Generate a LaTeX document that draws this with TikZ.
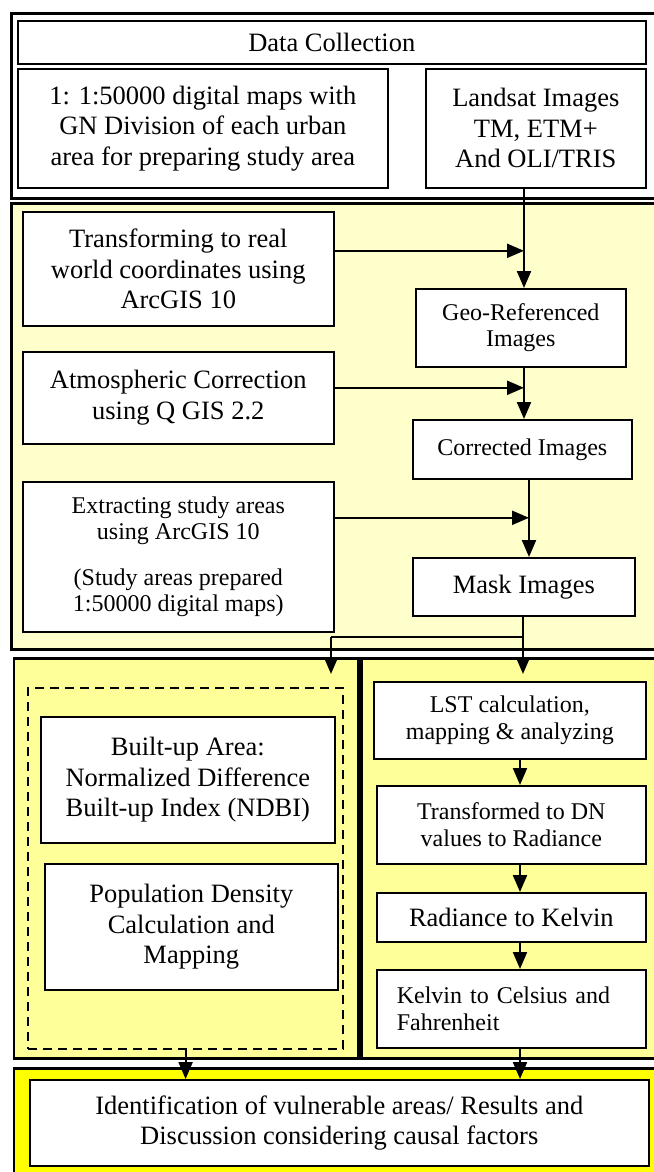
\documentclass[tikz,border=0pt]{standalone}
\usepackage{fontspec}
\setmainfont{Liberation Serif}
\usetikzlibrary{arrows.meta}
\definecolor{paleY}{HTML}{FFFFCC}
\definecolor{midY}{HTML}{FFFF99}
\definecolor{fullY}{HTML}{FFFF00}
\newcommand\bigf{\fontsize{26.5}{30.5}\selectfont}
\newcommand\smallf{\fontsize{24}{26.5}\selectfont}
\begin{document}
\begin{tikzpicture}[x=1pt,y=-1pt,
  sect/.style={draw, line width=2.6pt, anchor=north west, inner sep=0pt},
  box/.style={draw, line width=1.6pt, fill=white, anchor=north west, inner sep=0pt, align=center, font=\bigf},
  sbox/.style={box, font=\smallf},
  arr/.style={line width=2.2pt, -{Triangle[length=17pt,width=14pt]}},
  ln/.style={line width=2.2pt}]
\useasboundingbox (0,0) rectangle (653,1172);
\fill[white] (0,0) rectangle (653,1172);

% sections
\node[sect, fill=white, minimum width=646pt, minimum height=185pt] (s1) at (10,12) {};
\node[sect, fill=paleY, minimum width=646pt, minimum height=446pt] (s2) at (10,202) {};
\node[sect, fill=midY, minimum width=344.5pt, minimum height=400pt] (s3l) at (12.5,657) {};
\node[sect, fill=midY, minimum width=296pt, minimum height=400pt] (s3r) at (360,657) {};
\node[sect, fill=fullY, minimum width=643.5pt, minimum height=110pt] (s4) at (12.5,1067) {};

% top
\node[box, minimum width=628pt, minimum height=43pt] (dc) at (17,20) {Data Collection};
\node[box, minimum width=370pt, minimum height=119pt] (maps) at (17,68)
  {1: 1:50000 digital maps with\\GN Division of each urban\\area for preparing study area};
\node[box, minimum width=220pt, minimum height=119pt] (land) at (425,68)
  {Landsat Images\\TM, ETM+\\And OLI/TRIS};

% section 2
\node[box, minimum width=311pt, minimum height=114pt] (trans) at (22,211)
  {Transforming to real\\world coordinates using\\ArcGIS 10};
\node[sbox, minimum width=210pt, minimum height=78pt] (geo) at (415,288)
  {Geo-Referenced\\Images};
\node[box, minimum width=311pt, minimum height=92pt] (atm) at (22,351)
  {Atmospheric Correction\\using Q GIS 2.2};
\node[sbox, minimum width=219pt, minimum height=59pt] (corr) at (412,419)
  {Corrected Images};
\node[sbox, minimum width=311pt, minimum height=150pt] (extr) at (22,481)
  {Extracting study areas\\using ArcGIS 10\\[19pt](Study areas prepared\\1:50000 digital maps)};
\node[box, minimum width=222pt, minimum height=58pt] (mask) at (412,557)
  {Mask Images};

\coordinate (spA) at (524,0);
\coordinate (spB) at (529,0);
\coordinate (spC) at (523,0);
\draw[arr] (spA |- land.south) -- (spA |- geo.north);
\draw[arr] ([yshift=18pt]trans.east) -- ([yshift=18pt]trans.east -| spA);
\draw[arr] (spA |- geo.south) -- (spA |- corr.north);
\draw[arr] ([yshift=10pt]atm.east) -- ([yshift=10pt]atm.east -| spA);
\draw[arr] (spB |- corr.south) -- (spB |- mask.north);
\draw[arr] ([yshift=39pt]extr.east) -- ([yshift=39pt]extr.east -| spB);

% section 3
\node[draw, dash pattern=on 9pt off 6pt, line width=2.2pt, anchor=north west, inner sep=0pt,
  minimum width=315pt, minimum height=361pt] (dash) at (27,687) {};
\node[box, minimum width=294pt, minimum height=126pt] (built) at (40,716)
  {Built-up Area:\\Normalized Difference\\Built-up Index (NDBI)};
\node[box, minimum width=293pt, minimum height=126pt] (pop) at (44,863)
  {Population Density\\Calculation and\\Mapping};
\node[sbox, minimum width=272pt, minimum height=77pt] (lst) at (373,681)
  {LST calculation,\\mapping \& analyzing};
\node[sbox, minimum width=269pt, minimum height=78pt] (tdn) at (376,785)
  {Transformed to DN\\values to Radiance};
\node[box, minimum width=269pt, minimum height=49pt] (rad) at (376,892)
  {Radiance to Kelvin};
\node[sbox, minimum width=269pt, minimum height=78pt, align=left, text width=229pt, inner xsep=20pt] (kel) at (376,969)
  {Kelvin to Celsius and\\Fahrenheit};

\coordinate (mbr) at (spC |- 0,637);
\coordinate (lbr) at (331,637);
\coordinate (tipR) at (523,674);
\coordinate (tipL) at (331,674);
\draw[line width=1.6pt] (spC |- mask.south) -- (mbr) -- (lbr);
\draw[arr] (mbr) -- (tipR);
\draw[arr] (lbr) -- (tipL);

\coordinate (spD) at (520,0);
\draw[arr] (spD |- lst.south) -- (spD |- tdn.north);
\draw[arr] (spD |- tdn.south) -- (spD |- rad.north);
\draw[arr] (spD |- rad.south) -- (spD |- kel.north);

% bottom
\node[box, minimum width=619pt, minimum height=86pt] (res) at (29,1079)
  {Identification of vulnerable areas/ Results and\\Discussion considering causal factors};
\draw[arr] (dash.south) -- (dash.south |- res.north);
\draw[arr] (spD |- kel.south) -- (spD |- res.north);
\end{tikzpicture}
\end{document}
